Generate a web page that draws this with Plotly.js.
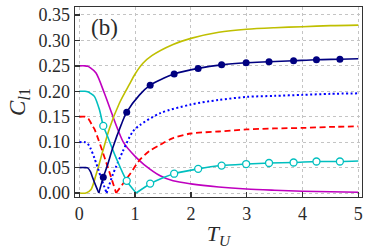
<!DOCTYPE html>
<html>
<head>
<meta charset="utf-8">
<script src="https://cdn.plot.ly/plotly-3.0.1.min.js"></script>
<style>html,body{margin:0;padding:0;background:#fff;}#chart{width:374px;height:249px;}</style>
</head>
<body>
<div id="chart"></div>
<script>
// Magenta solid
const magX = [0, 0.1, 0.15, 0.2, 0.3, 0.45, 0.6, 0.69, 0.8, 1.0, 1.16, 1.45, 1.68, 2.0, 2.5, 3.0, 3.5, 4.0, 4.5, 5.0];
const magY = [0.25, 0.25, 0.249, 0.246, 0.236, 0.196, 0.151, 0.125, 0.098, 0.072, 0.056, 0.034, 0.024, 0.018, 0.012, 0.008, 0.0055, 0.0035, 0.0024, 0.0016];
// Cyan solid (open markers)
const cyaX = [0, 0.1, 0.15, 0.2, 0.27, 0.36, 0.43, 0.5, 0.66, 0.85, 1.02, 1.28, 1.5, 1.7, 2.13, 2.55, 2.99, 3.4, 3.84, 4.25, 4.67, 5.0];
const cyaY = [0.2, 0.2, 0.199, 0.196, 0.19, 0.164, 0.132, 0.113, 0.069, 0.024, 0.0, 0.0186, 0.03, 0.038, 0.0475, 0.054, 0.057, 0.059, 0.060, 0.062, 0.062, 0.063];
// Yellow solid
const yelX = [0, 0.12, 0.21, 0.3, 0.42, 0.54, 0.72, 0.9, 1.0, 1.14, 1.3, 1.68, 2.0, 2.5, 3.0, 3.5, 4.0, 4.5, 5.0];
const yelY = [0, 0, 0.007, 0.036, 0.082, 0.127, 0.177, 0.214, 0.234, 0.255, 0.27, 0.292, 0.304, 0.316, 0.322, 0.325, 0.327, 0.329, 0.330];
// Navy solid (filled markers)
const navX = [0, 0.1, 0.15, 0.2, 0.24, 0.3, 0.35, 0.43, 0.5, 0.6, 0.75, 0.85, 1.08, 1.27, 1.5, 1.7, 2.13, 2.55, 2.99, 3.4, 3.84, 4.25, 4.67, 5.0];
const navY = [0.05, 0.05, 0.0495, 0.042, 0.03, 0.013, 0, 0.031, 0.053, 0.089, 0.134, 0.159, 0.193, 0.212, 0.225, 0.234, 0.245, 0.252, 0.256, 0.258, 0.260, 0.262, 0.263, 0.264];
// Blue dotted
const bluX = [0, 0.1, 0.15, 0.2, 0.27, 0.39, 0.49, 0.6, 0.78, 0.96, 1.09, 1.45, 2.0, 2.5, 3.0, 3.5, 4.0, 4.5, 5.0];
const bluY = [0.1, 0.1, 0.097, 0.088, 0.069, 0.03, 0.0, 0.036, 0.082, 0.121, 0.134, 0.157, 0.174, 0.183, 0.189, 0.191, 0.193, 0.195, 0.196];
// Red dashed
const redX = [0, 0.1, 0.17, 0.24, 0.27, 0.48, 0.66, 0.9, 1.09, 1.25, 1.45, 1.68, 2.0, 2.5, 3.0, 3.5, 4.0, 4.5, 5.0];
const redY = [0.15, 0.15, 0.145, 0.131, 0.126, 0.061, 0.0, 0.036, 0.066, 0.082, 0.095, 0.108, 0.117, 0.121, 0.125, 0.127, 0.128, 0.130, 0.131];
// Marker positions
const mkX = [0.43, 0.85, 1.27, 1.7, 2.13, 2.55, 2.99, 3.4, 3.84, 4.25, 4.67];
const navMkY = [0.031, 0.159, 0.212, 0.234, 0.245, 0.252, 0.256, 0.258, 0.260, 0.262, 0.263];
const cyaMkY = [0.132, 0.024, 0.0186, 0.038, 0.0475, 0.054, 0.057, 0.059, 0.060, 0.062, 0.062];
const yTicks = [0, 0.05, 0.1, 0.15, 0.2, 0.25, 0.3, 0.35];
const xTicks = [0, 1, 2, 3, 4, 5];

// split a curve at its V-shaped minimum so each branch is smoothed separately
function branches(xs, ys, line) {
  let k = 0;
  for (let i = 1; i < ys.length; i++) if (ys[i] < ys[k]) k = i;
  const mk = (a, b) => ({x: xs.slice(a, b), y: ys.slice(a, b), mode: 'lines',
    line: Object.assign({shape: 'spline', smoothing: 0.8}, line), hoverinfo: 'skip'});
  if (k === 0 || k === ys.length - 1) return [mk(0, ys.length)];
  return [mk(0, k + 1), mk(k, ys.length)];
}
const lw = 1.6;
const traces = [].concat(
  [{x: magX, y: magY, mode: 'lines', line: {color: '#bf00bf', width: lw, shape: 'spline', smoothing: 0.8}}],
  [{x: yelX, y: yelY, mode: 'lines', line: {color: '#bfbf00', width: lw, shape: 'spline', smoothing: 0.8}}],
  branches(redX, redY, {color: '#ff0000', width: 1.8, dash: '6px,3.5px'}),
  branches(bluX, bluY, {color: '#0000ff', width: 2, dash: '2px,2.5px'}),
  branches(cyaX, cyaY, {color: '#00bfbf', width: lw}),
  branches(navX, navY, {color: '#000080', width: lw}),
  [{x: mkX, y: cyaMkY, mode: 'markers', marker: {color: '#ffffff', size: 7, line: {color: '#00bfbf', width: 1.3}}},
   {x: mkX, y: navMkY, mode: 'markers', marker: {color: '#000080', size: 7, line: {color: '#000080', width: 0}}}]
);
const serif = 'Liberation Serif';
const tickFont = {family: serif, size: 18, color: '#2a2a2a'};
const layout = {
  width: 374, height: 249,
  margin: {l: 75, r: 12, t: 7, b: 52},
  paper_bgcolor: '#fff', plot_bgcolor: '#fff',
  showlegend: false,
  font: {family: serif},
  xaxis: {
    range: [-0.077, 5.066], tickvals: xTicks, ticktext: xTicks.map(String),
    ticks: 'inside', ticklen: 5, tickwidth: 1.3, tickcolor: '#333',
    showline: true, linecolor: '#333', linewidth: 1.3, mirror: true,
    showgrid: true, gridcolor: '#c4c4c4', gridwidth: 1, griddash: 'dot',
    zeroline: false, tickfont: tickFont,
    title: {text: '<i>T</i><sub><i>U</i></sub>', font: {family: serif, size: 22, color: '#2a2a2a'}, standoff: 3}
  },
  yaxis: {
    range: [-0.0078, 0.3657], tickvals: yTicks, ticktext: yTicks.map(v => v.toFixed(2)),
    ticks: 'inside', ticklen: 5, tickwidth: 1.3, tickcolor: '#333',
    showline: true, linecolor: '#333', linewidth: 1.3, mirror: true,
    showgrid: true, gridcolor: '#c4c4c4', gridwidth: 1, griddash: 'dot',
    zeroline: false, tickfont: tickFont,
    title: {text: '<i>C</i><sub><i>l</i>1</sub>', font: {family: serif, size: 23, color: '#2a2a2a'}, standoff: 6}
  },
  annotations: [{
    x: 0.46, y: 0.3245, xref: 'x', yref: 'y', text: '(b)', showarrow: false,
    font: {family: serif, size: 23, color: '#2a2a2a'}
  }]
};
Plotly.newPlot('chart', traces, layout, {staticPlot: true, displayModeBar: false});
</script>
</body>
</html>
